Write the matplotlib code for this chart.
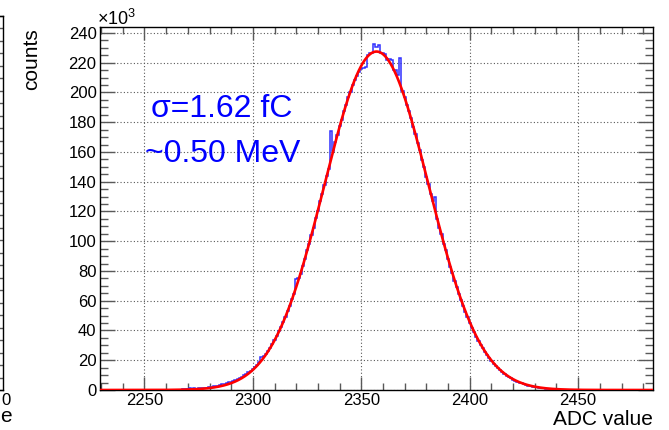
import numpy as np
import matplotlib
matplotlib.use("Agg")
import matplotlib.pyplot as plt
from matplotlib.ticker import MultipleLocator

plt.rcParams['font.family'] = ['Liberation Sans', 'DejaVu Sans']
plt.rcParams['mathtext.fontset'] = 'custom'
plt.rcParams['mathtext.rm'] = 'Liberation Sans'
plt.rcParams['mathtext.it'] = 'Liberation Sans'
plt.rcParams['mathtext.bf'] = 'Liberation Sans'

# ---------------- data (counts in units of 10^3) ----------------
adc_first_bin = 2265  # centre of first bin, bin width = 1 ADC
counts_k = [
    0.0, 0.0, 0.0, 0.9, 1.0, 0.8, 1.1, 0.9, 1.2, 1.0,          # 2265-2274
    1.3, 1.2, 1.4, 1.5, 1.6, 1.9, 2.2, 2.4, 2.7, 3.0,          # 2275-2284
    3.3, 3.7, 4.1, 4.6, 5.1, 5.6, 6.1, 6.8, 7.4, 8.2,          # 2285-2294
    9.0, 9.9, 10.8, 11.9, 13.0, 14.3, 15.6, 17.0, 18.6, 22.4,  # 2295-2304
    22.9, 24.0, 26.2, 28.4, 30.6, 33.6, 36.0, 39.5, 42.2, 46.0,  # 2305-2314
    49.0, 53.3, 56.4, 61.2, 64.7, 74.5, 75.0, 78.2, 83.6, 88.0,  # 2315-2324
    93.8, 98.4, 104.5, 109.2, 115.6, 120.3, 126.9, 131.8, 137.5, 144.0,  # 2325-2334
    148.8, 174.0, 160.5, 166.8, 171.4, 177.6, 181.8, 187.6, 191.5, 196.9,  # 2335-2344
    200.3, 205.3, 208.2, 211.0, 214.0, 216.0, 216.5, 216.8, 225.0, 226.6,  # 2345-2354
    226.8, 232.6, 230.4, 231.7, 226.5, 226.5, 226.0, 222.0, 222.2, 221.8,  # 2355-2364
    215.0, 215.3, 212.0, 223.0, 201.0, 196.8, 191.4, 187.6, 182.8, 176.6,  # 2365-2374
    172.3, 165.7, 161.4, 154.3, 150.0, 143.0, 138.6, 131.6, 127.0, 130.0,  # 2375-2384
    115.0, 109.2, 104.6, 98.4, 93.9, 88.0, 83.0, 78.9, 73.5, 69.0,       # 2385-2394
    64.6, 60.4, 56.5, 52.6, 48.8, 45.3, 42.0, 38.8, 35.8, 33.0,          # 2395-2404
    30.4, 27.9, 25.6, 23.4, 21.4, 19.5, 17.7, 16.1, 14.6, 13.2,          # 2405-2414
    11.9, 10.8, 9.7, 8.7, 7.8, 7.0, 6.3, 5.6, 5.0, 4.4,                 # 2415-2424
    3.9, 3.5, 3.0, 2.7, 2.3, 2.0, 1.8, 1.5, 1.3, 1.1,                   # 2425-2434
    1.0, 0.8, 0.7, 0.6, 0.5, 0.4, 0.3, 0.25, 0.2, 0.15,                 # 2435-2444
    0.1,                                                                # 2445
]
fit_amp = 227.5      # x10^3
fit_mean = 2357.0    # ADC
fit_sigma = 24.0     # ADC
x_range = (2229.5, 2484.5)
y_range = (0, 244)
x_ticks_major, x_ticks_minor = 50, 10
y_ticks_major, y_ticks_minor = 20, 5
label_line1 = "σ=1.62 fC"
label_line2 = "~0.50 MeV"

# ---------------- figure ----------------
W, H = 669, 430
fig = plt.figure(figsize=(W / 100, H / 100), dpi=100)
fig.patch.set_facecolor('white')

# partial neighbouring panel at the far left
ax0 = fig.add_axes([(3 - 300) / W, 1 - 390 / H, 300 / W, 374 / H])
ax0.set_xlim(0, 1)
ax0.set_ylim(0, 30)
ax0.set_xticks([])
ax0.yaxis.tick_right()
ax0.set_yticks(np.arange(0, 31, 1))
ax0.tick_params(axis='y', direction='in', length=3, width=1, color='0.35',
                labelright=False)
for s in ax0.spines.values():
    s.set_linewidth(1.0)
fig.text(1 / W, 1 - 405 / H, "0", ha='left', va='baseline', fontsize=12)
fig.text(0.5 / W, 1 - 422 / H, "e", ha='left', va='baseline', fontsize=15)

# main panel
ax = fig.add_axes([100 / W, 1 - 390 / H, 553 / W, 363 / H])
ax.set_xlim(*x_range)
ax.set_ylim(*y_range)

ax.grid(True, which='major', color='0.35', linestyle=(0, (1, 2)), linewidth=0.8)
ax.set_axisbelow(True)

counts = np.array(counts_k)
edges = adc_first_bin - 0.5 + np.arange(len(counts) + 1)
ax.stairs(counts, edges, color='#3030ff', linewidth=1.1, baseline=0)

xf = np.linspace(x_range[0], x_range[1], 1200)
yf = fit_amp * np.exp(-0.5 * ((xf - fit_mean) / fit_sigma) ** 2)
ax.plot(xf, yf, color='#ff0000', linewidth=1.9, zorder=3)

ax.xaxis.set_major_locator(MultipleLocator(x_ticks_major))
ax.xaxis.set_minor_locator(MultipleLocator(x_ticks_minor))
ax.yaxis.set_major_locator(MultipleLocator(y_ticks_major))
ax.yaxis.set_minor_locator(MultipleLocator(y_ticks_minor))
ax.tick_params(axis='both', which='both', direction='in', top=True, right=True,
               color='0.35', width=1.0, labelsize=12)
ax.tick_params(axis='x', which='major', length=9.5, pad=2.0)
ax.tick_params(axis='x', which='minor', length=4.8)
ax.tick_params(axis='y', which='major', length=11, pad=2.5)
ax.tick_params(axis='y', which='minor', length=5.5)
for s in ax.spines.values():
    s.set_linewidth(1.0)

# annotations
ax.text((151 - 100) / 553, 1 - (116.7 - 27) / 363, label_line1,
        transform=ax.transAxes, ha='left', va='baseline', fontsize=23,
        color='#0000ff')
ax.text((145 - 100) / 553, 1 - (161.7 - 27) / 363, label_line2,
        transform=ax.transAxes, ha='left', va='baseline', fontsize=23,
        color='#0000ff')

# axis titles (ROOT style, aligned to axis ends)
fig.text(32 / W, 1 - 28 / H, "counts", rotation=90, ha='center', va='top',
         fontsize=15)
fig.text(653 / W, 1 - 425 / H, "ADC value", ha='right', va='baseline',
         fontsize=15)
fig.text(97 / W, 1 - 25 / H, "×10$^{3}$", ha='left', va='baseline', fontsize=13)

fig.savefig("out.png", dpi=100)
